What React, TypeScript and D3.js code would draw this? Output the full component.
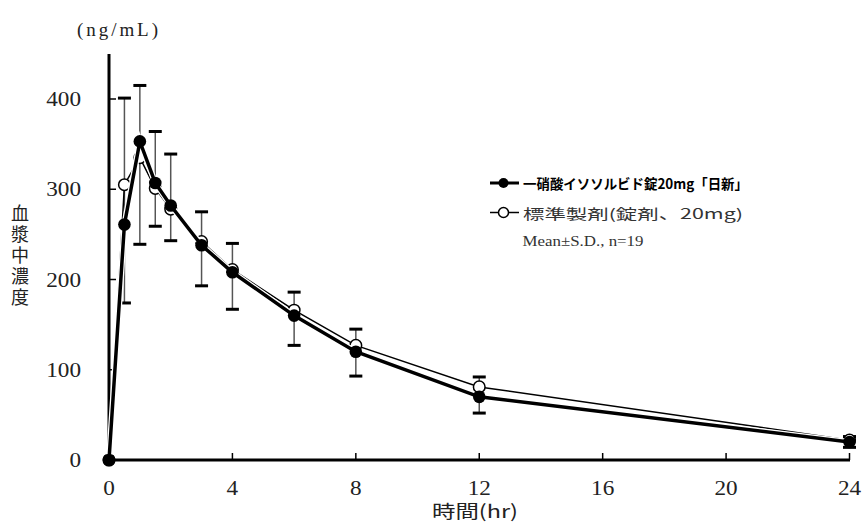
import React from "react";
import * as d3 from "d3";

const times = [0, 0.5, 1, 1.5, 2, 3, 4, 6, 8, 12, 24];
const testValues = [0, 261, 353, 307, 282, 238, 208, 160, 120, 70, 20];
const refValues = [0, 305, 335, 301, 278, 242, 211, 166, 127, 81, 22];
const errUpper = [null, 401, 415, 364, 339, 275, 240, 186, 145, 92, 26];
const errLower = [null, 174, 239, 259, 243, 193, 167, 127, 93, 52, 14];
const xTicks = [0, 4, 8, 12, 16, 20, 24];
const yTicks = [0, 100, 200, 300, 400];
const yTitle = "血漿中濃度";
const legendTest = "一硝酸イソソルビド錠20mg「日新」";
const legendRef = "標準製剤(錠剤、20mg)";
const legendNote = "Mean±S.D., n=19";
const unitLabel = "(ng/mL)";
const xTitle = "時間(hr)";

const W = 862;
const H = 524;
const serif = "'Liberation Serif', 'DejaVu Serif', 'Noto Sans CJK JP', serif";
const cjk = "'Noto Sans CJK JP', sans-serif";

export default function App() {
  const x = d3.scaleLinear().domain([0, 24]).range([109, 849.5]);
  const y = d3.scaleLinear().domain([0, 400]).range([460, 99]);

  const line = d3
    .line<number>()
    .x((_, i) => x(times[i]))
    .y((v) => y(v));

  return (
    <svg
      width={W}
      height={H}
      style={{ position: "absolute", left: 0, top: 0, background: "#fff" }}
    >
      <rect width={W} height={H} fill="#fff" />
      {/* unit label */}
      <text x={77} y={36} fontFamily={serif} fontSize={19} textLength={81} lengthAdjust="spacing" fill="#222">
        {unitLabel}
      </text>
      {/* y title vertical */}
      <text
        x={20}
        y={204}
        fontFamily={cjk}
        fontSize={18}
        letterSpacing={3}
        style={{ writingMode: "vertical-rl" as any }}
        fill="#222"
      >
        {yTitle}
      </text>
      {/* y ticks & labels */}
      {yTicks.map((t) => (
        <g key={"y" + t}>
          <line x1={109} x2={116} y1={y(t)} y2={y(t)} stroke="#000" strokeWidth={1.5} />
          <text
            x={81}
            y={y(t)}
            fontFamily={serif}
            fontSize={20}
            textAnchor="end"
            dominantBaseline="central"
            fill="#222"
            textLength={String(t).length * 11.6}
            lengthAdjust="spacingAndGlyphs"
          >
            {t}
          </text>
        </g>
      ))}
      {/* x ticks & labels */}
      {xTicks.map((t) => (
        <g key={"x" + t}>
          <line x1={x(t)} x2={x(t)} y1={460} y2={453} stroke="#000" strokeWidth={1.5} />
          <text
            x={x(t)}
            y={488}
            fontFamily={serif}
            fontSize={20}
            textAnchor="middle"
            dominantBaseline="central"
            fill="#222"
            textLength={String(t).length * 11.6}
            lengthAdjust="spacingAndGlyphs"
          >
            {t}
          </text>
        </g>
      ))}
      <text x={475} y={510} fontFamily={cjk} fontSize={18} textAnchor="middle" dominantBaseline="central" fill="#222" textLength={86} lengthAdjust="spacingAndGlyphs">
        {xTitle}
      </text>
      {/* axes */}
      <line x1={109} x2={109} y1={54} y2={461.5} stroke="#000" strokeWidth={3} />
      <line x1={107.5} x2={850} y1={460} y2={460} stroke="#000" strokeWidth={3} />

      {/* error bars */}
      {times.map((t, i) =>
        errUpper[i] == null ? null : (
          <g key={"e" + i}>
            <line x1={x(t)} x2={x(t)} y1={y(errUpper[i] as number)} y2={y(errLower[i] as number)} stroke="#555" strokeWidth={1.5} />
            <line x1={x(t) - 6.5} x2={x(t) + 6.5} y1={y(errUpper[i] as number)} y2={y(errUpper[i] as number)} stroke="#000" strokeWidth={3} />
            <line x1={x(t) - 6.5} x2={x(t) + 6.5} y1={y(errLower[i] as number)} y2={y(errLower[i] as number)} stroke="#000" strokeWidth={3} />
          </g>
        )
      )}

      {/* reference (open) series */}
      <path d={line(refValues) || ""} fill="none" stroke="#000" strokeWidth={1.5} />
      {refValues.map((v, i) => (
        <circle key={"r" + i} cx={x(times[i])} cy={y(v)} r={5.8} fill="#fff" stroke="#000" strokeWidth={1.5} />
      ))}

      {/* test (filled) series */}
      <path d={line(testValues) || ""} fill="none" stroke="#fff" strokeWidth={6} />
      <path d={line(testValues) || ""} fill="none" stroke="#000" strokeWidth={3.5} />
      {testValues.map((v, i) => (
        <circle key={"t" + i} cx={x(times[i])} cy={y(v)} r={6.3} fill="#000" />
      ))}

      {/* legend */}
      <line x1={490} x2={519} y1={183} y2={183} stroke="#000" strokeWidth={3} />
      <circle cx={503.5} cy={183} r={5} fill="#000" />
      <text x={523} y={183} fontFamily={cjk} fontWeight="bold" fontSize={14} dominantBaseline="central" fill="#000" textLength={225} lengthAdjust="spacingAndGlyphs">
        {legendTest}
      </text>
      <line x1={490} x2={519} y1={212.5} y2={212.5} stroke="#000" strokeWidth={1.5} />
      <circle cx={503.5} cy={212.5} r={5} fill="#fff" stroke="#000" strokeWidth={1.5} />
      <text x={523} y={212.5} fontFamily={cjk} fontSize={14} dominantBaseline="central" fill="#333" textLength={220} lengthAdjust="spacingAndGlyphs">
        {legendRef}
      </text>
      <text x={522.5} y={241} fontFamily={serif} fontSize={14} dominantBaseline="central" fill="#333" textLength={121} lengthAdjust="spacingAndGlyphs">
        {legendNote}
      </text>
    </svg>
  );
}
